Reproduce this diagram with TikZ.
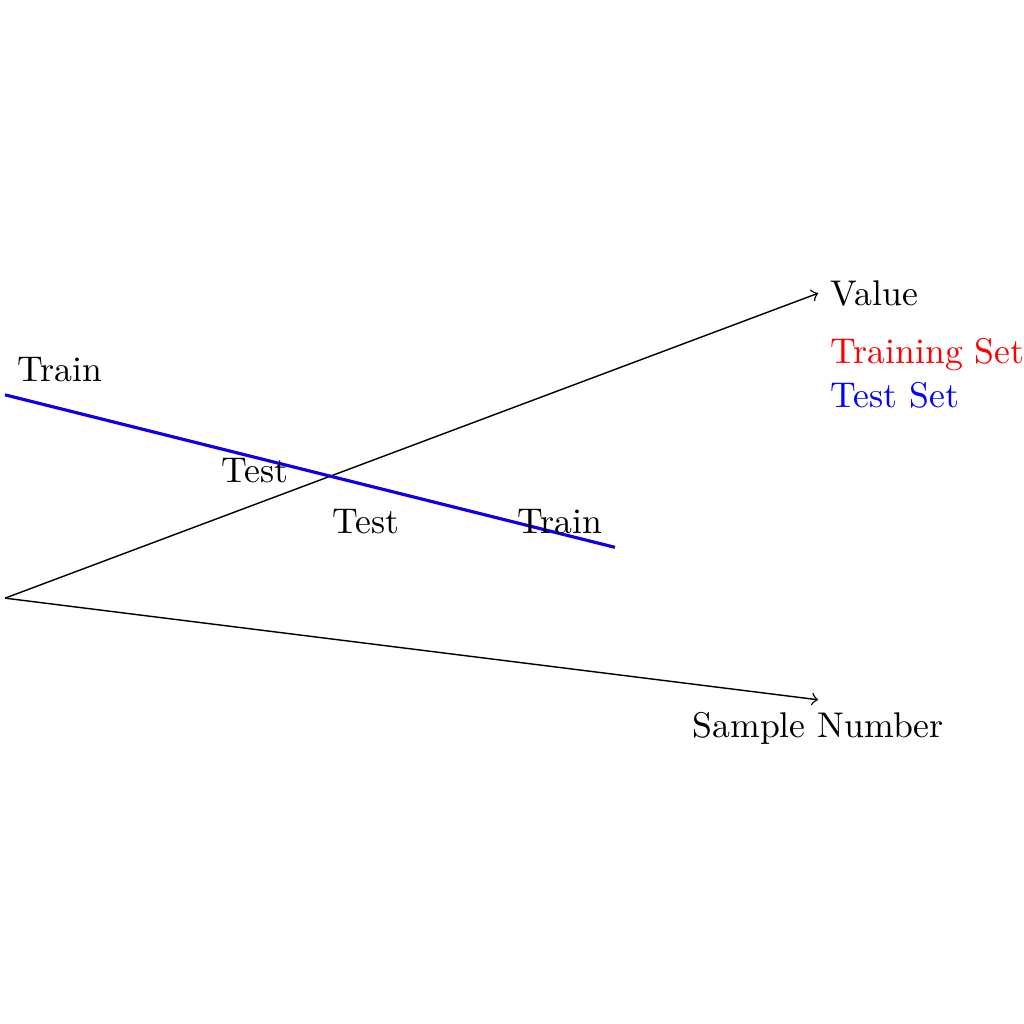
\documentclass[tikz,border=0pt]{standalone}
\begin{document}
\begin{tikzpicture}[
  axis/.style={->},
  setline/.style={thick},
  lbl/.style={inner sep=3.33pt}
]
\useasboundingbox (-0.05,-4.19) rectangle (10.02,5.885);
\coordinate (O) at (0,0);
\coordinate (V) at (8,3);
\coordinate (S) at (8,-1);
\coordinate (A) at (0,2);
\coordinate (B) at (6,0.5);
\draw[axis] (O) -- (V);
\draw[axis] (O) -- (S);
\draw[setline,red] (A) -- (B);
\draw[setline,blue] (A) -- (B);
\node[lbl,right] (val) at (V) {Value};
\node[lbl,below] (sn) at (S) {Sample Number};
\node[lbl,anchor=west] (tr) at (8,2.40) {\textcolor{red}{Training Set}};
\node[lbl,anchor=west] (ts) at (8,2.0) {\textcolor{blue}{Test Set}};
\node[lbl,above right] (train1) at (A) {Train};
\node[lbl] (test1) at (2.46,1.25) {Test};
\node[lbl] (test2) at (3.55,0.75) {Test};
\node[lbl] (train2) at (5.46,0.75) {Train};
\end{tikzpicture}
\end{document}
